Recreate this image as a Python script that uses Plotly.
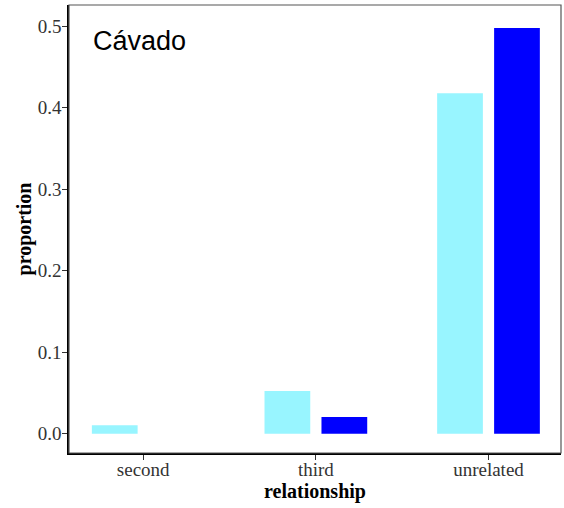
import plotly.graph_objects as go

# Proportion of pairs by relationship class, Cávado
relationship = ["second", "third", "unrelated"]
proportion_a = [0.0103, 0.0524, 0.4177]
proportion_b = [0.0, 0.0205, 0.4978]
y_ticks = [0.0, 0.1, 0.2, 0.3, 0.4, 0.5]
y_tick_labels = ["0.0", "0.1", "0.2", "0.3", "0.4", "0.5"]

bar_w = 0.265
shift = 0.165
xs = list(range(len(relationship)))

fig = go.Figure()
fig.add_trace(go.Bar(
    x=xs, y=proportion_a, width=bar_w, offset=-shift - bar_w / 2,
    marker=dict(color="#98F5FF", line=dict(width=0)), showlegend=False,
))
fig.add_trace(go.Bar(
    x=xs, y=proportion_b, width=bar_w, offset=shift - bar_w / 2,
    marker=dict(color="#0000FF", line=dict(width=0)), showlegend=False,
))

serif = "Liberation Serif, Times New Roman, serif"

fig.update_layout(
    width=564, height=508,
    margin=dict(l=69, r=3, t=5, b=55),
    paper_bgcolor="white", plot_bgcolor="white",
    barmode="overlay",
    xaxis=dict(
        range=[-0.43, 2.42], tickmode="array", tickvals=xs, ticktext=relationship,
        showgrid=False, zeroline=False, showline=True, linecolor="black", linewidth=1.5,
        ticks="outside", ticklen=5, tickcolor="#333333", tickwidth=1,
        ticklabelstandoff=-7,
        tickfont=dict(family=serif, size=19, color="#333333"),
        title=dict(text="<b>relationship</b>", font=dict(family=serif, size=20, color="black"), standoff=2),
    ),
    yaxis=dict(
        range=[-0.0237, 0.526], tickmode="array", tickvals=y_ticks, ticktext=y_tick_labels,
        showgrid=False, zeroline=False, showline=True, linecolor="black", linewidth=1.5,
        ticks="outside", ticklen=5, tickcolor="#333333", tickwidth=1,
        ticklabelstandoff=-3,
        tickfont=dict(family=serif, size=19, color="#333333"),
        title=dict(text="<b>proportion</b>", font=dict(family=serif, size=20, color="black"), standoff=1),
    ),
    shapes=[dict(type="rect", xref="paper", yref="paper", x0=0, x1=1, y0=0, y1=1,
                 line=dict(color="#555555", width=1.2), fillcolor="rgba(0,0,0,0)", layer="above")],
    annotations=[dict(text="Cávado", xref="paper", yref="paper", x=0.045, y=0.958,
                      xanchor="left", yanchor="top", showarrow=False,
                      font=dict(family="Liberation Sans, Arial, sans-serif", size=27, color="black"))],
)

fig.write_html("out.html")
